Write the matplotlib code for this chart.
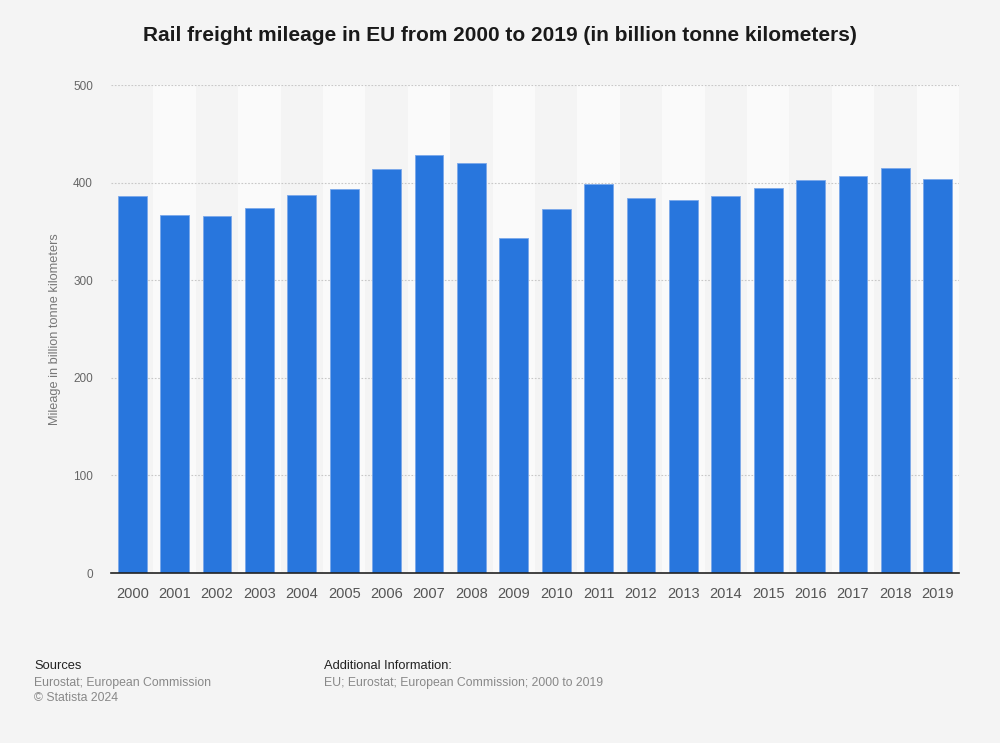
import numpy as np
import matplotlib.pyplot as plt

years = [str(y) for y in range(2000, 2020)]
mileage = [386, 367.5, 366, 374, 387.7, 393.5, 414, 428.7, 420.5, 343.3,
           373, 399, 384, 382.6, 386.7, 395, 403, 407, 415, 404.4]

plt.rcParams['font.family'] = ['Liberation Sans', 'DejaVu Sans']

fig = plt.figure(figsize=(10, 7.43), dpi=100, facecolor='#f4f4f4')
ax = fig.add_axes([0.111, 0.2288, 0.848, 0.6564])
ax.set_facecolor('#f4f4f4')

x = np.arange(len(years))

# alternating column bands
for i in x:
    if i % 2 == 1:
        ax.axvspan(i - 0.5, i + 0.5, color='#fafafa', zorder=0, lw=0)

ax.set_ylim(0, 500)
ax.set_xlim(-0.5, len(years) - 0.5)
ax.set_yticks([0, 100, 200, 300, 400, 500])
for v in [100, 200, 300, 400, 500]:
    ax.axhline(v, color='#c8c8c8', lw=0.8, ls=(0, (1.5, 1.5)), zorder=1)

ax.bar(x, mileage, width=0.68, color='#2876dd', edgecolor='#7aa8ea',
       linewidth=0.6, zorder=2)

ax.set_xticks(x)
ax.set_xticklabels(years, fontsize=10.5, color='#555555')
ax.tick_params(axis='y', labelsize=8.5, labelcolor='#666666', length=0, pad=13)
ax.tick_params(axis='x', length=0, pad=10)

for s in ['top', 'right', 'left']:
    ax.spines[s].set_visible(False)
ax.spines['bottom'].set_color('#222222')
ax.spines['bottom'].set_linewidth(1.2)
ax.spines['bottom'].set_zorder(3)

ax.set_ylabel('Mileage in billion tonne kilometers', fontsize=9.2, color='#777777')
ax.yaxis.set_label_coords(-0.059, 0.5)

fig.text(0.5, 0.952, 'Rail freight mileage in EU from 2000 to 2019 (in billion tonne kilometers)',
         ha='center', va='center', fontsize=15, fontweight='bold', color='#1a1a1a')

fig.text(0.034, 0.103, 'Sources', fontsize=9.3, color='#222222', va='center')
fig.text(0.034, 0.081, 'Eurostat; European Commission', fontsize=8.8, color='#888888', va='center')
fig.text(0.034, 0.06, '\u00a9 Statista 2024', fontsize=8.8, color='#888888', va='center')
fig.text(0.324, 0.103, 'Additional Information:', fontsize=9.3, color='#222222', va='center')
fig.text(0.324, 0.081, 'EU; Eurostat; European Commission; 2000 to 2019', fontsize=8.8,
         color='#888888', va='center')

fig.savefig('out.png', dpi=100, facecolor=fig.get_facecolor())
